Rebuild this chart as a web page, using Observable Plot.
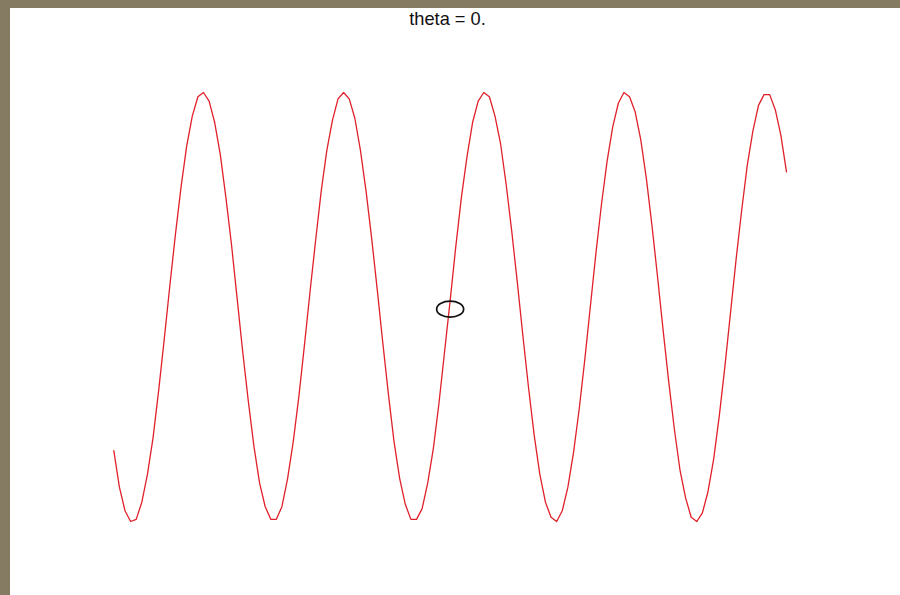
<!DOCTYPE html>
<html>
<head>
<meta charset="utf-8">
<script src="https://cdn.jsdelivr.net/npm/d3@7"></script>
<script src="https://cdn.jsdelivr.net/npm/@observablehq/plot@0.6"></script>
<style>
  html, body { margin: 0; padding: 0; background: #857a62; width: 900px; height: 595px; overflow: hidden; }
  #frame { position: absolute; left: 10px; top: 8px; width: 890px; height: 587px; background: #ffffff; }
  #title { position: absolute; left: 0; top: 1px; width: 875px; text-align: center;
           font-family: "Liberation Sans", Arial, sans-serif; font-size: 19px; line-height: 19px; color: #111;
           transform: scaleX(0.96); transform-origin: 437.5px 0; }
  #chart { position: absolute; left: 0; top: 0; }
</style>
</head>
<body>
<div id="frame">
  <div id="chart"></div>
  <div id="title">theta = 0.</div>
</div>
<script>
// x positions (t) and curve values
const tValues = [
  0, 0.25, 0.5, 0.75, 1, 1.25, 1.5, 1.75, 2, 2.25, 2.5, 2.75, 3, 3.25, 3.5, 3.75,
  4, 4.25, 4.5, 4.75, 5, 5.25, 5.5, 5.75, 6, 6.25, 6.5, 6.75, 7, 7.25, 7.5, 7.75,
  8, 8.25, 8.5, 8.75, 9, 9.25, 9.5, 9.75, 10, 10.25, 10.5, 10.75, 11, 11.25, 11.5, 11.75,
  12, 12.25, 12.5, 12.75, 13, 13.25, 13.5, 13.75, 14, 14.25, 14.5, 14.75, 15, 15.25, 15.5, 15.75,
  16, 16.25, 16.5, 16.75, 17, 17.25, 17.5, 17.75, 18, 18.25, 18.5, 18.75, 19, 19.25, 19.5, 19.75,
  20, 20.25, 20.5, 20.75, 21, 21.25, 21.5, 21.75, 22, 22.25, 22.5, 22.75, 23, 23.25, 23.5, 23.75,
  24, 24.25, 24.5, 24.75, 25, 25.25, 25.5, 25.75, 26, 26.25, 26.5, 26.75, 27, 27.25, 27.5, 27.75,
  28, 28.25, 28.5, 28.75, 29, 29.25, 29.5, 29.75, 30
];
const waveValues = [
  -0.67, -0.84, -0.95, -1.00, -0.99, -0.91, -0.78, -0.61, -0.39, -0.15, 0.10, 0.34, 0.56, 0.75, 0.89, 0.98,
  1.00, 0.96, 0.86, 0.71, 0.51, 0.29, 0.04, -0.21, -0.44, -0.65, -0.82, -0.93, -0.99, -0.99, -0.93, -0.80,
  -0.63, -0.42, -0.18, 0.07, 0.31, 0.54, 0.73, 0.87, 0.97, 1.00, 0.97, 0.88, 0.73, 0.54, 0.32, 0.08,
  -0.17, -0.41, -0.63, -0.80, -0.92, -0.99, -0.99, -0.94, -0.82, -0.66, -0.45, -0.21, 0.03, 0.28, 0.51, 0.70,
  0.86, 0.96, 1.00, 0.98, 0.89, 0.76, 0.57, 0.35, 0.11, -0.14, -0.38, -0.60, -0.78, -0.91, -0.98, -1.00,
  -0.95, -0.84, -0.68, -0.48, -0.25, 0.00, 0.25, 0.48, 0.68, 0.84, 0.95, 1.00, 0.98, 0.91, 0.78, 0.60,
  0.38, 0.14, -0.11, -0.35, -0.57, -0.76, -0.89, -0.98, -1.00, -0.96, -0.86, -0.71, -0.51, -0.28, -0.03, 0.22,
  0.45, 0.66, 0.82, 0.94, 0.99, 0.99, 0.92, 0.80, 0.63
];
// marker (ellipse) position
const markerX = [15];
const markerY = [-0.01];

const lineData = tValues.map((t, i) => ({t, v: waveValues[i]}));
const markerData = markerX.map((x, i) => ({x, y: markerY[i]}));

const rx = 13.5, ry = 8, k = 0.5523;
const ellipseSymbol = {
  draw(ctx) {
    ctx.moveTo(rx, 0);
    ctx.bezierCurveTo(rx, k * ry, k * rx, ry, 0, ry);
    ctx.bezierCurveTo(-k * rx, ry, -rx, k * ry, -rx, 0);
    ctx.bezierCurveTo(-rx, -k * ry, -k * rx, -ry, 0, -ry);
    ctx.bezierCurveTo(k * rx, -ry, rx, -k * ry, rx, 0);
    ctx.closePath();
  }
};

const chart = Plot.plot({
  width: 890,
  height: 587,
  marginLeft: 103.3,
  marginRight: 114,
  marginTop: 84,
  marginBottom: 74,
  x: {domain: [0, 30], axis: null},
  y: {domain: [-1, 1], axis: null},
  style: {background: "transparent"},
  marks: [
    Plot.line(lineData, {x: "t", y: "v", stroke: "#e0202a", strokeWidth: 1.3}),
    Plot.dot(markerData, {x: "x", y: "y", symbol: ellipseSymbol, r: 10, stroke: "#111", strokeWidth: 1.7, fill: "none"})
  ]
});
document.getElementById("chart").appendChild(chart);
</script>
</body>
</html>
